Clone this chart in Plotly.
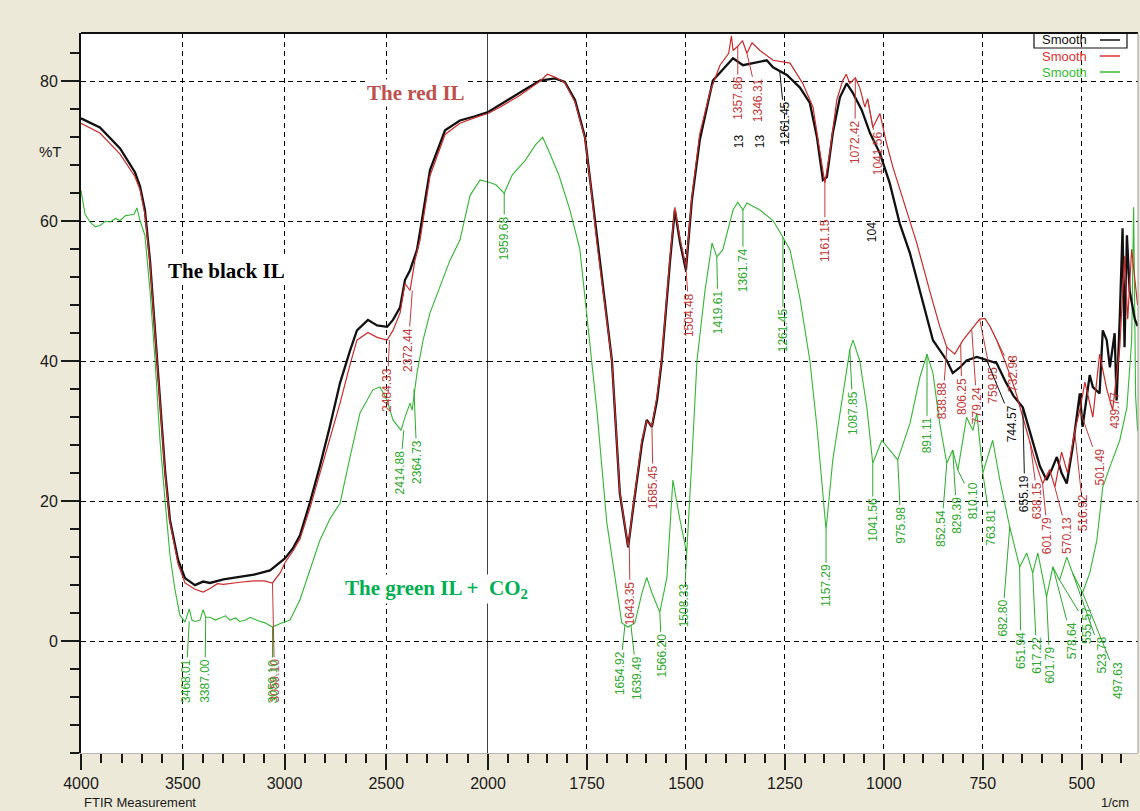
import plotly.graph_objects as go

# ---------------- data (wavenumber 1/cm, %T) ----------------
BLACK_WN = [4000, 3907, 3808, 3735, 3710, 3686, 3661, 3636, 3612, 3587, 3563, 3523, 3489, 3440, 3400,
            3366, 3300, 3219, 3150, 3071, 3040, 2998, 2960, 2924, 2875, 2826, 2776, 2727, 2678, 2644,
            2590, 2545, 2496, 2467, 2432, 2408, 2383, 2349, 2334, 2285, 2211, 2138, 2064, 2000,
            1970, 1919, 1869, 1850, 1831, 1806, 1780, 1755, 1742, 1725, 1687, 1667, 1646, 1634, 1611,
            1599, 1586, 1573, 1561, 1540, 1528, 1515, 1500, 1485, 1465, 1432, 1407, 1381, 1356, 1331,
            1296, 1280, 1245, 1212, 1187, 1169, 1154, 1144, 1129, 1111, 1094, 1078, 1056, 1035, 1010,
            985, 960, 934, 909, 876, 841, 826, 808, 791, 765, 740, 715, 692, 672, 649, 624, 606, 589,
            576, 563, 551, 538, 523, 505, 498, 480, 472, 455, 447, 437, 429, 417, 412, 404, 397, 392,
            386, 379, 366, 359]
BLACK_T = [74.7, 73.4, 70.4, 67.0, 65.0, 61.6, 54.4, 44.4, 34.4, 24.4, 17.3, 11.6, 9.0, 8.0, 8.5,
           8.3, 8.8, 9.2, 9.5, 10.1, 10.8, 11.8, 13.2, 15.1, 19.8, 25.0, 30.8, 36.9, 41.5, 44.4,
           45.9, 45.1, 44.9, 45.9, 47.7, 51.6, 53.0, 55.9, 58.5, 67.3, 73.0, 74.4, 75.0, 75.6,
           76.6, 78.4, 80.1, 80.3, 80.4, 79.9, 77.3, 72.0, 66.0, 57.3, 40.1, 21.1, 13.4, 18.7, 28.3,
           31.6, 30.6, 34.4, 40.1, 54.4, 61.6, 57.0, 53.0, 63.0, 71.6, 80.1, 81.6, 83.3, 82.3, 82.6,
           83.0, 82.0, 80.9, 79.1, 76.9, 72.0, 65.9, 66.3, 72.6, 77.7, 79.7, 78.3, 75.9, 72.6, 69.7,
           65.4, 59.7, 55.4, 50.0, 43.0, 40.1, 38.3, 39.1, 40.1, 40.6, 40.1, 39.7, 37.0, 35.0, 33.4,
           28.7, 25.0, 23.0, 24.5, 26.3, 24.0, 22.5, 27.7, 35.4, 30.6, 38.0, 36.3, 35.4, 44.4, 43.0,
           39.1, 44.0, 34.4, 46.3, 59.0, 42.0, 58.0, 50.0, 46.0, 45.0]

RED_WN = [4000, 3907, 3808, 3735, 3710, 3686, 3661, 3636, 3612, 3587, 3563, 3523, 3489, 3440, 3400,
          3366, 3330, 3300, 3219, 3150, 3100, 3059, 3020, 2998, 2960, 2924, 2875, 2826, 2776, 2727,
          2678, 2644, 2590, 2545, 2496, 2467, 2432, 2408, 2383, 2359, 2334, 2285, 2211, 2138, 2064,
          2000, 1970, 1919, 1869, 1850, 1831, 1806, 1780, 1755, 1742, 1725, 1687, 1667, 1646, 1634,
          1611, 1599, 1586, 1573, 1561, 1540, 1528, 1515, 1500, 1485, 1465, 1439, 1414, 1392, 1385,
          1381, 1369, 1357, 1346, 1333, 1313, 1280, 1237, 1205, 1179, 1162, 1149, 1136, 1119, 1104,
          1095, 1086, 1072, 1061, 1048, 1041, 1028, 1010, 993, 977, 942, 917, 884, 859, 841, 821,
          800, 778, 758, 745, 732, 715, 694, 669, 644, 619, 599, 581, 568, 551, 536, 518, 505, 492,
          472, 455, 437, 422, 404, 392, 384, 374, 359]
RED_T = [74.0, 72.6, 69.6, 66.4, 64.5, 61.0, 54.0, 44.0, 34.0, 24.0, 17.0, 11.0, 8.3, 7.4, 7.0,
         7.5, 8.2, 8.1, 8.4, 8.6, 8.6, 8.3, 9.8, 11.2, 12.8, 14.6, 19.0, 24.0, 29.3, 34.0,
         39.5, 43.0, 44.1, 43.4, 43.0, 44.4, 46.9, 51.1, 50.1, 54.4, 57.3, 66.5, 72.4, 74.0, 74.8,
         75.4, 76.3, 78.0, 80.0, 81.0, 80.6, 79.8, 77.0, 71.8, 65.8, 57.0, 40.0, 21.3, 13.5, 19.0,
         28.8, 31.4, 30.8, 35.0, 40.5, 55.0, 62.0, 57.5, 53.5, 63.5, 72.5, 78.5, 82.3, 84.0, 86.5,
         84.4, 85.0, 85.8, 84.0, 85.5, 84.4, 83.0, 82.6, 79.7, 76.3, 70.1, 65.4, 70.1, 77.3, 80.1,
         81.0, 79.7, 80.5, 79.1, 76.3, 77.5, 73.4, 75.4, 71.1, 67.7, 61.6, 56.9, 50.0, 45.0, 42.0, 41.0,
         43.0, 44.5, 46.0, 46.1, 45.0, 43.0, 40.0, 36.0, 31.0, 26.0, 22.5, 24.5, 22.0, 27.0, 24.0, 30.0, 33.0, 37.0,
         32.0, 41.0, 36.0, 33.0, 42.0, 55.0, 46.0, 56.0, 48.0]

GREEN_WN = [4000, 3980, 3956, 3930, 3907, 3880, 3857, 3830, 3808, 3780, 3759, 3740, 3725, 3710, 3686,
            3661, 3636, 3612, 3587, 3563, 3538, 3514, 3489, 3468, 3455, 3440, 3415, 3400, 3387, 3366,
            3340, 3320, 3290, 3268, 3240, 3220, 3190, 3170, 3130, 3096, 3059, 3020, 2973, 2924, 2875,
            2826, 2776, 2727, 2678, 2629, 2566, 2531, 2496, 2467, 2427, 2408, 2383, 2373, 2349, 2319,
            2285, 2236, 2187, 2138, 2088, 2039, 2000,
            1980, 1959, 1939, 1906, 1880, 1862, 1855, 1847, 1821, 1793, 1768, 1737, 1725, 1700, 1674,
            1662, 1646, 1629, 1611, 1599, 1586, 1566, 1548, 1533, 1515, 1498, 1485, 1472, 1452, 1434,
            1422, 1407, 1381, 1369, 1356, 1346, 1313, 1280, 1255, 1237, 1212, 1187, 1169, 1154, 1146,
            1129, 1104, 1086, 1078, 1061, 1043, 1028, 1005, 990, 965, 934, 909, 891, 876, 859, 841,
            826, 813, 791, 775, 765, 750, 725, 707, 682, 657, 639, 624, 611, 589, 573, 556, 538, 523,
            498, 480, 462, 447, 429, 404, 386, 374, 369, 364, 359]
GREEN_T = [64.4, 61.0, 59.9, 59.2, 59.4, 60.0, 59.9, 60.4, 60.1, 60.8, 60.9, 61.0, 61.9, 60.1, 58.0,
           50.1, 40.1, 28.7, 20.1, 12.3, 7.3, 3.7, 2.7, 4.6, 3.0, 2.8, 3.0, 4.5, 3.4, 3.4,
           3.0, 3.2, 3.6, 3.0, 3.3, 2.8, 3.0, 3.4, 2.9, 2.6, 2.0, 2.5, 3.0, 5.9, 10.1,
           14.4, 17.5, 19.7, 26.3, 32.6, 35.9, 36.3, 34.4, 31.6, 30.1, 32.0, 34.0, 33.0, 38.3, 43.0,
           46.9, 50.6, 54.4, 57.3, 63.7, 65.9, 65.6,
           65.2, 64.0, 66.6, 68.7, 70.9, 72.0, 71.0, 70.1, 66.6, 61.6, 56.0, 40.0, 33.0, 17.0, 6.9,
           2.6, 2.0, 2.6, 6.9, 9.1, 6.9, 4.1, 9.1, 23.0, 17.3, 12.6, 25.9, 40.1, 50.0, 56.9,
           54.9, 55.9, 61.6, 62.7, 61.6, 62.6, 61.6, 60.1, 57.7, 55.9, 49.0, 40.1, 30.6, 21.1, 15.9,
           25.9, 35.4, 41.6, 43.0, 40.1, 33.4, 25.4, 28.7, 27.7, 25.9, 31.1, 37.7, 41.0, 38.3, 31.1, 25.4,
           27.3, 24.4, 32.0, 30.1, 32.6, 24.0, 28.7, 23.0, 16.3, 10.6, 12.6, 9.7, 12.6, 6.3, 10.6, 8.7, 12.0, 9.7,
           6.9, 9.7, 14.4, 22.0, 24.9, 28.7, 33.4, 43.0, 62.0, 35.0, 30.0]

X_TICKS_HIGH = [4000, 3500, 3000, 2500, 2000]
X_TICKS_LOW = [1750, 1500, 1250, 1000, 750, 500]
Y_TICKS = [0, 20, 40, 60, 80]

# peak labels: text, series, peak wn, peak %T, label-centre wn, label-centre %T
PEAK_LABELS = [
    ("3468.01", "g", 3468, 2.8, 3484, -5.7), ("3387.00", "g", 3387, 3.4, 3391, -5.7),
    ("3059.10", "r", 3059, 8.3, 3049, -5.7), ("3059.10", "g", 3059, 2.0, 3059, -5.7),
    ("2484.33", "r", 2484, 43.0, 2496, 35.9), ("2372.44", "r", 2372, 50.1, 2393, 41.6),
    ("2414.88", "g", 2414, 30.1, 2432, 24.1), ("2364.73", "g", 2364, 36.0, 2349, 25.6),
    ("1959.68", "g", 1959, 64.0, 1959, 57.6),
    ("1654.92", "g", 1654, 2.3, 1667, -4.6), ("1639.49", "g", 1639, 2.3, 1624, -5.3),
    ("1643.35", "r", 1643, 13.5, 1641, 5.4), ("1585.45", "r", 1586, 30.8, 1583, 22.0),
    ("1566.20", "g", 1566, 4.1, 1561, -2.1), ("1508.33", "g", 1498, 12.6, 1505, 5.1),
    ("1504.48", "r", 1500, 53.5, 1492, 46.6), ("1419.61", "g", 1422, 54.9, 1419, 47.0),
    ("1361.74", "g", 1356, 61.6, 1356, 53.0), ("1261.45", "g", 1255, 57.7, 1255, 44.4),
    ("1357.86", "r", 1369, 85.0, 1369, 77.6), ("1346.31", "r", 1346, 84.0, 1318, 77.3),
    ("1261.45", "k", 1263, 81.4, 1250, 74.0), ("1161.15", "r", 1149, 65.4, 1149, 57.3),
    ("1157.29", "g", 1146, 15.9, 1146, 7.9), ("1072.42", "r", 1072, 80.5, 1073, 71.3),
    ("1041.56", "r", 1041, 77.5, 1015, 69.7), ("1087.85", "g", 1086, 41.6, 1078, 32.6),
    ("1041.56", "g", 1028, 25.4, 1028, 17.3), ("975.98", "g", 965, 25.9, 957, 16.6),
    ("891.11", "g", 891, 41.0, 891, 29.4), ("852.54", "g", 841, 25.4, 854, 16.1),
    ("829.39", "g", 826, 27.3, 816, 18.0), ("810.10", "g", 813, 24.4, 775, 20.1),
    ("763.81", "g", 750, 24.0, 730, 16.3),
    ("838.88", "r", 841, 42.0, 851, 34.4), ("806.25", "r", 806, 42.5, 803, 35.0),
    ("779.24", "r", 778, 44.5, 765, 33.7), ("759.95", "r", 758, 46.0, 725, 36.6),
    ("732.98", "r", 732, 45.0, 674, 38.3), ("744.57", "k", 740, 40.1, 674, 31.1),
    ("655.19", "k", 649, 33.4, 644, 21.1), ("638.15", "r", 631, 28.5, 611, 20.1),
    ("601.79", "r", 599, 22.5, 586, 15.1), ("570.13", "r", 568, 22.0, 536, 15.1),
    ("516.92", "r", 518, 30.0, 496, 18.3), ("501.49", "r", 505, 33.0, 455, 24.9),
    ("439.77", "r", 437, 36.0, 417, 33.0),
    ("682.80", "g", 682, 16.3, 700, 3.3), ("651.94", "g", 657, 10.6, 654, -1.3),
    ("617.22", "g", 624, 9.7, 614, -2.0), ("601.79", "g", 589, 6.3, 581, -3.4),
    ("578.64", "g", 573, 10.6, 525, 0.1), ("555.57", "g", 556, 8.7, 487, 2.3),
    ("523.78", "g", 523, 9.7, 450, -2.0), ("497.63", "g", 498, 6.9, 409, -5.6),
]

# ---------------- styling ----------------
LINE_COL = {"k": "#111111", "r": "#cc2a2a", "g": "#33b833"}
TEXT_COL = {"k": "#111111", "r": "#c23a3a", "g": "#2ea82e"}
SPLIT_WN = 2000
LEFT_RANGE = [4000, 2000]
RIGHT_RANGE = [2000, 358]
Y_RANGE = [-16, 86.9]
W, H = 1140, 811
ML, MR, MT, MB = 81, 2, 33, 58
PW, PH = W - ML - MR, H - MT - MB
SPLIT_FRAC = 407.0 / PW
SANS = "Liberation Sans, Arial, sans-serif"


def px2paper(px, py):
    return (px - ML) / PW, (H - MB - py) / PH


fig = go.Figure()

series = [("g", GREEN_WN, GREEN_T, 1.1), ("k", BLACK_WN, BLACK_T, 2.3), ("r", RED_WN, RED_T, 1.2)]
for key, wn, t, lw in series:
    hi = [(w, v) for w, v in zip(wn, t) if w >= SPLIT_WN]
    lo = [(w, v) for w, v in zip(wn, t) if w <= SPLIT_WN]
    for pts, xa in ((hi, "x"), (lo, "x2")):
        fig.add_trace(go.Scatter(x=[p[0] for p in pts], y=[p[1] for p in pts], mode="lines",
                                 line=dict(color=LINE_COL[key], width=lw), xaxis=xa, yaxis="y",
                                 showlegend=False, hoverinfo="skip"))

tickfont = dict(family=SANS, size=16, color="#1a1a1a")
grid = dict(showgrid=True, gridcolor="#000000", gridwidth=1.3, griddash="5px,4px", zeroline=False,
            automargin=False)

minor_hi = [v for v in range(3900, 2000, -100) if v not in X_TICKS_HIGH]
minor_lo = [v for v in range(1950, 350, -50) if v not in X_TICKS_LOW]
minor_y = [v for v in range(-16, 87, 4) if v not in Y_TICKS]

fig.update_layout(
    width=W, height=H,
    margin=dict(l=ML, r=MR, t=MT, b=MB, pad=0, autoexpand=False),
    paper_bgcolor="#ece9d8", plot_bgcolor="#ffffff",
    showlegend=False,
    xaxis=dict(domain=[0, SPLIT_FRAC], range=LEFT_RANGE, anchor="y", tickmode="array",
               tickvals=X_TICKS_HIGH, ticktext=[str(v) for v in X_TICKS_HIGH],
               ticks="outside", ticklen=16, tickwidth=1.5, tickcolor="#1a1a1a", tickfont=tickfont,
               showline=True, linecolor="#b5b5b5", linewidth=1,
               minor=dict(tickmode="array", tickvals=minor_hi, ticks="outside", ticklen=9,
                          tickwidth=1.5, tickcolor="#1a1a1a", showgrid=False), **grid),
    xaxis2=dict(domain=[SPLIT_FRAC, 1], range=RIGHT_RANGE, anchor="y", tickmode="array",
                tickvals=X_TICKS_LOW, ticktext=[str(v) for v in X_TICKS_LOW],
                ticks="outside", ticklen=16, tickwidth=1.5, tickcolor="#1a1a1a", tickfont=tickfont,
                showline=True, linecolor="#b5b5b5", linewidth=1,
                minor=dict(tickmode="array", tickvals=minor_lo, ticks="outside", ticklen=9,
                           tickwidth=1.5, tickcolor="#1a1a1a", showgrid=False), **grid),
    yaxis=dict(range=Y_RANGE, anchor="x", tickmode="array", tickvals=Y_TICKS,
               ticktext=[str(v) for v in Y_TICKS], ticks="outside", ticklen=18, tickwidth=1.5,
               tickcolor="#1a1a1a", tickfont=tickfont, showline=True, linecolor="#111111",
               linewidth=2,
               minor=dict(tickmode="array", tickvals=minor_y, ticks="outside", ticklen=9,
                          tickwidth=1.5, tickcolor="#1a1a1a", showgrid=False), **grid),
)

# frame: top line, right edge, solid divider at 2000 cm-1
fig.add_shape(type="line", xref="paper", yref="paper", x0=0, x1=1, y0=1, y1=1,
              line=dict(color="#111111", width=2))
fig.add_shape(type="line", xref="paper", yref="paper", x0=1, x1=1, y0=0, y1=1,
              line=dict(color="#9a9a9a", width=1))
fig.add_shape(type="line", xref="x", yref="paper", x0=SPLIT_WN, x1=SPLIT_WN, y0=0, y1=1,
              line=dict(color="#111111", width=1.6))

# peak labels
for text, key, wp, tp, wl, tl in PEAK_LABELS:
    xa = "x" if wp >= SPLIT_WN else "x2"
    fig.add_annotation(x=wp, y=tp, xref=xa, yref="y", ax=wl, ay=tl, axref=xa, ayref="y",
                       text=text, textangle=-90, showarrow=True, arrowhead=0, arrowwidth=1,
                       arrowcolor=TEXT_COL[key],
                       font=dict(family=SANS, size=12, color=TEXT_COL[key]))

# black truncated labels
for wn in (1364, 1311):
    fig.add_annotation(x=wn, y=71.4, xref="x2", yref="y", text="13", textangle=-90,
                       showarrow=False, font=dict(family=SANS, size=12, color="#111111"))
fig.add_annotation(x=1028, y=58.4, xref="x2", yref="y", text="104", textangle=-90, showarrow=False,
                   font=dict(family=SANS, size=12, color="#111111"))

# series name labels
serif = "Liberation Serif, Times New Roman, serif"
for txt, px, py, col in [("<b>The red IL</b>", 416, 93, "#c0504d"),
                         ("<b>The black IL</b>", 226, 271, "#000000"),
                         ("<b>The green IL +  CO<sub>2</sub></b>", 436, 589, "#00b050")]:
    xp, yp = px2paper(px, py)
    fig.add_annotation(x=xp, y=yp, xref="paper", yref="paper", text=txt, showarrow=False,
                       xanchor="center", yanchor="middle", bgcolor="#ffffff",
                       font=dict(family=serif, size=21, color=col))

# axis captions
for txt, px, py, anchor, size in [("%T", 50, 152, "center", 15),
                                  ("FTIR Measurement", 82, 802, "left", 13),
                                  ("1/cm", 1131, 802, "right", 13)]:
    xp, yp = px2paper(px, py)
    fig.add_annotation(x=xp, y=yp, xref="paper", yref="paper", text=txt, showarrow=False,
                       xanchor=anchor, yanchor="middle",
                       font=dict(family=SANS, size=size, color="#1a1a1a"))

# legend box (top right)
LEGEND = [("Smooth", "#111111", 40), ("Smooth", "#e03030", 56), ("Smooth", "#30c030", 72)]
for txt, col, py in LEGEND:
    xp, yp = px2paper(1040, py)
    fig.add_annotation(x=xp, y=yp, xref="paper", yref="paper", text=txt, showarrow=False,
                       xanchor="left", yanchor="middle",
                       font=dict(family=SANS, size=13, color=col))
    x0, y0 = px2paper(1100, py)
    x1, _ = px2paper(1120, py)
    fig.add_shape(type="line", xref="paper", yref="paper", x0=x0, x1=x1, y0=y0, y1=y0,
                  line=dict(color=col, width=1.5))
bx0, by0 = px2paper(1034, 48)
bx1, by1 = px2paper(1127, 33)
fig.add_shape(type="rect", xref="paper", yref="paper", x0=bx0, x1=bx1, y0=by0, y1=by1,
              line=dict(color="#111111", width=1.2), fillcolor="rgba(0,0,0,0)")

fig.write_html("out.html", config={"displayModeBar": False},
               post_script="document.body.style.margin='0';document.body.style.overflow='hidden';")
